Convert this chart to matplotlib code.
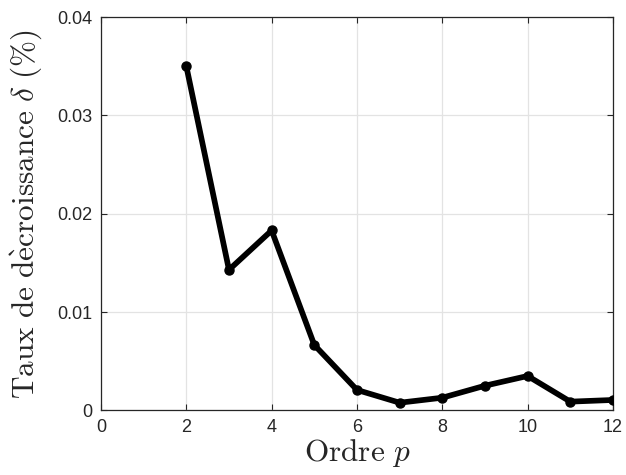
import numpy as np
import matplotlib
matplotlib.use("Agg")
import matplotlib.pyplot as plt

# data
ordre = [2, 3, 4, 5, 6, 7, 8, 9, 10, 11, 12]
taux = [0.0350, 0.0143, 0.0183, 0.00666, 0.00209, 0.00079, 0.0013, 0.00252, 0.00351, 0.0009, 0.00107]

xticks = [0, 2, 4, 6, 8, 10, 12]
yticks = [0, 0.01, 0.02, 0.03, 0.04]
ytick_labels = ["0", "0.01", "0.02", "0.03", "0.04"]

plt.rcParams['mathtext.fontset'] = 'cm'
plt.rcParams['font.family'] = ['Liberation Sans', 'DejaVu Sans']

axcol = '#262626'
fig = plt.figure(figsize=(6.26, 4.75), dpi=100)
ax = fig.add_axes([0.1613, 0.1358, 0.8179, 0.8284])

ax.plot(ordre, taux, '-o', color='k', lw=4.1, ms=6.5, zorder=3)

ax.set_xlim(0, 12)
ax.set_ylim(0, 0.04)
ax.set_xticks(xticks)
ax.set_yticks(yticks)
ax.set_yticklabels(ytick_labels)
ax.grid(True, color='#e3e3e3', lw=0.9, zorder=0)
ax.set_axisbelow(True)

ax.tick_params(direction='in', length=4, width=0.8, colors=axcol, labelsize=13,
               top=True, right=True, labeltop=False, labelright=False, pad=6)
for s in ax.spines.values():
    s.set_color(axcol)
    s.set_linewidth(0.9)

ax.set_xlabel(r'$\mathrm{Ordre}\ p$', fontsize=22.5, labelpad=1, color=axcol)
ax.set_ylabel(r'$\mathrm{Taux\ de\ d\grave{e}croissance}\ \delta\ (\%)$', fontsize=22.5,
              labelpad=10, color=axcol)

fig.savefig('out.png', dpi=100)
